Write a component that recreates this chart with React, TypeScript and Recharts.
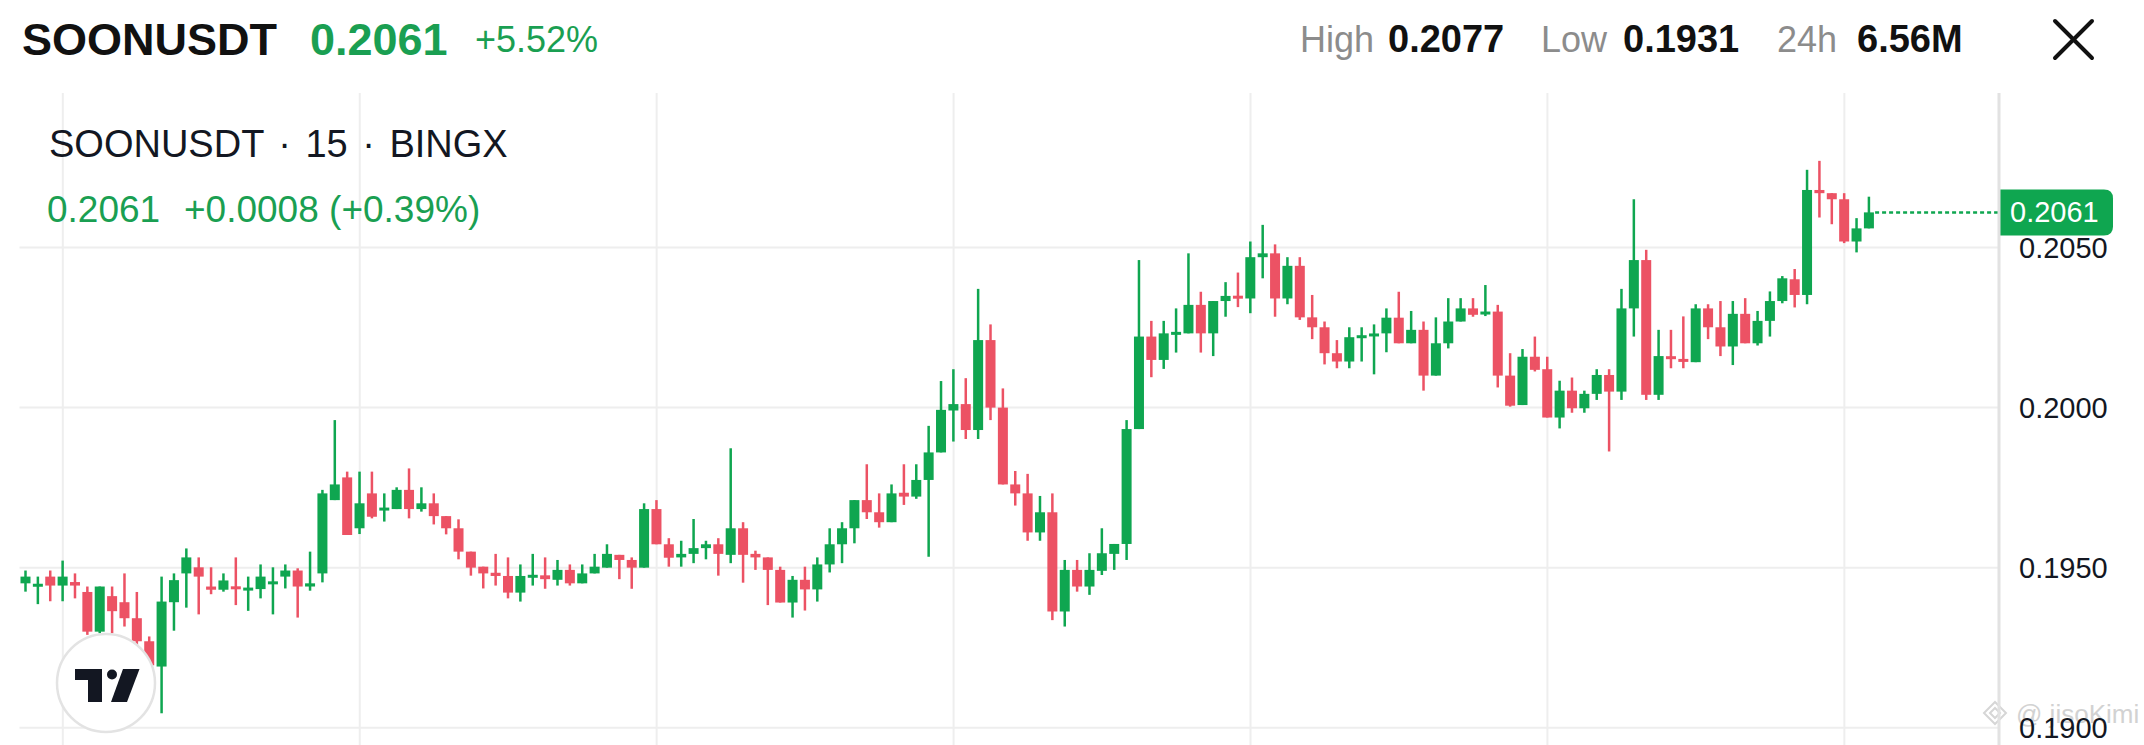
import { Bar, CartesianGrid, ComposedChart, ReferenceLine, XAxis, YAxis } from "recharts";

// 15-minute candles (oldest first)
const OPEN = [
  0.19451, 0.19442, 0.19472, 0.19444, 0.19455, 0.19424, 0.193, 0.19411, 0.19392, 0.19342,
  0.1927, 0.19191, 0.19392, 0.19482, 0.19501, 0.19441, 0.19431, 0.19441, 0.1943, 0.19433,
  0.1945, 0.19472, 0.19491, 0.19441, 0.19482, 0.19711, 0.19782, 0.19623, 0.19732, 0.1968,
  0.19683, 0.19743, 0.19683, 0.19701, 0.19661, 0.19623, 0.1955, 0.19503, 0.19484, 0.19474,
  0.19422, 0.1947, 0.19476, 0.19462, 0.19493, 0.19451, 0.19482, 0.195, 0.1954, 0.19524,
  0.195, 0.19683, 0.19573, 0.19532, 0.19543, 0.19561, 0.19573, 0.1954, 0.19623, 0.19543,
  0.19532, 0.19493, 0.19391, 0.19462, 0.19432, 0.1951, 0.19573, 0.19623, 0.19711, 0.19673,
  0.19642, 0.19734, 0.19722, 0.19774, 0.1986, 0.19991, 0.20011, 0.1993, 0.20211, 0.2,
  0.1976, 0.19732, 0.1961, 0.19673, 0.19363, 0.19493, 0.19441, 0.1949, 0.19543, 0.19574,
  0.19933, 0.20222, 0.20149, 0.20229, 0.20232, 0.20321, 0.20232, 0.20333, 0.20349, 0.20341,
  0.2047, 0.20482, 0.20341, 0.20443, 0.20282, 0.20251, 0.2017, 0.20144, 0.20219, 0.20224,
  0.20232, 0.20281, 0.20201, 0.20243, 0.201, 0.20201, 0.20269, 0.2031, 0.20294, 0.203,
  0.201, 0.20008, 0.20159, 0.2012, 0.19969, 0.20053, 0.19998, 0.20043, 0.20102, 0.2005,
  0.2031, 0.20461, 0.2004, 0.2016, 0.20151, 0.20142, 0.2031, 0.20251, 0.20191, 0.20293,
  0.20201, 0.20271, 0.20333, 0.20401, 0.20352, 0.2068, 0.2067, 0.20651, 0.20519, 0.2056,
];
const HIGH = [
  0.19491, 0.19472, 0.19491, 0.19522, 0.19482, 0.19441, 0.19441, 0.19441, 0.19482, 0.19424,
  0.19285, 0.19472, 0.19482, 0.1956, 0.19532, 0.19501, 0.19482, 0.19532, 0.19472, 0.1951,
  0.19501, 0.1951, 0.19498, 0.1955, 0.19743, 0.19961, 0.198, 0.198, 0.198, 0.19732,
  0.19751, 0.1981, 0.19751, 0.19732, 0.19661, 0.19651, 0.1955, 0.19503, 0.19543, 0.19532,
  0.1951, 0.19543, 0.19532, 0.19524, 0.1951, 0.1951, 0.19543, 0.19573, 0.1954, 0.19532,
  0.19701, 0.19711, 0.19592, 0.19584, 0.19652, 0.19584, 0.19592, 0.19873, 0.19642, 0.19553,
  0.19532, 0.19503, 0.19474, 0.19503, 0.19532, 0.19623, 0.19642, 0.19711, 0.19823, 0.19732,
  0.1976, 0.19823, 0.19823, 0.19943, 0.20083, 0.2012, 0.20092, 0.20371, 0.2026, 0.2006,
  0.19802, 0.19793, 0.19724, 0.19732, 0.19524, 0.19524, 0.19545, 0.19623, 0.19574, 0.19961,
  0.20461, 0.20271, 0.20271, 0.2031, 0.20482, 0.20362, 0.20333, 0.20392, 0.20422, 0.20519,
  0.20571, 0.2051, 0.2047, 0.2047, 0.20352, 0.20269, 0.20211, 0.20251, 0.20251, 0.2026,
  0.2031, 0.20362, 0.20302, 0.20269, 0.20282, 0.20342, 0.20342, 0.20342, 0.20383, 0.20321,
  0.2017, 0.20183, 0.20222, 0.20159, 0.20084, 0.20094, 0.20053, 0.2012, 0.2012, 0.20371,
  0.20651, 0.20493, 0.20243, 0.20243, 0.20285, 0.20323, 0.20323, 0.20333, 0.20333, 0.20342,
  0.20302, 0.20363, 0.20411, 0.20433, 0.20743, 0.20771, 0.2067, 0.2067, 0.20592, 0.20659,
];
const LOW = [
  0.19425, 0.19386, 0.19395, 0.19395, 0.19404, 0.1929, 0.19295, 0.19295, 0.19316, 0.1925,
  0.1917, 0.19045, 0.19303, 0.19375, 0.19354, 0.19417, 0.19425, 0.19383, 0.19365, 0.19404,
  0.19354, 0.19435, 0.19344, 0.19428, 0.19454, 0.19711, 0.19602, 0.19605, 0.19654, 0.19644,
  0.19683, 0.19654, 0.19675, 0.19635, 0.19604, 0.19526, 0.19475, 0.19435, 0.19444, 0.19404,
  0.19394, 0.19444, 0.19434, 0.19444, 0.19444, 0.19451, 0.19482, 0.195, 0.19464, 0.19434,
  0.195, 0.19573, 0.19503, 0.19503, 0.19514, 0.19526, 0.19475, 0.19514, 0.19453, 0.19493,
  0.19383, 0.19391, 0.19344, 0.19366, 0.19394, 0.19485, 0.19514, 0.19576, 0.19652, 0.19625,
  0.19642, 0.19696, 0.19715, 0.19534, 0.1986, 0.19894, 0.19902, 0.19902, 0.19961, 0.1976,
  0.19694, 0.19584, 0.19584, 0.19336, 0.19316, 0.19425, 0.19415, 0.19477, 0.19493, 0.19524,
  0.19933, 0.20095, 0.20121, 0.20172, 0.20232, 0.20172, 0.20161, 0.20284, 0.20314, 0.20295,
  0.20404, 0.20284, 0.20323, 0.20274, 0.20214, 0.20135, 0.20123, 0.20123, 0.20144, 0.20104,
  0.20173, 0.20201, 0.20201, 0.20053, 0.201, 0.20185, 0.20269, 0.20284, 0.20286, 0.20063,
  0.20003, 0.20008, 0.20113, 0.19969, 0.19935, 0.19984, 0.19984, 0.20024, 0.19863, 0.20024,
  0.20222, 0.20024, 0.20024, 0.20123, 0.20123, 0.20142, 0.20214, 0.20161, 0.20133, 0.20201,
  0.20194, 0.20222, 0.20326, 0.20313, 0.20323, 0.20594, 0.20573, 0.20514, 0.20485, 0.2056,
];
const CLOSE = [
  0.19472, 0.19448, 0.19444, 0.19472, 0.19444, 0.193, 0.19441, 0.19364, 0.19342, 0.1927,
  0.19195, 0.19394, 0.19461, 0.19532, 0.19472, 0.19431, 0.1946, 0.19433, 0.19436, 0.19472,
  0.19455, 0.19491, 0.19441, 0.19451, 0.19732, 0.1976, 0.19602, 0.19701, 0.19659, 0.19686,
  0.19743, 0.19683, 0.19701, 0.19661, 0.19623, 0.1955, 0.195, 0.19482, 0.19474, 0.19422,
  0.19474, 0.19476, 0.19464, 0.19493, 0.19451, 0.19482, 0.19503, 0.19543, 0.19524, 0.195,
  0.19683, 0.19573, 0.19531, 0.19543, 0.19561, 0.19573, 0.19543, 0.19623, 0.1954, 0.19532,
  0.19493, 0.19391, 0.19462, 0.19432, 0.1951, 0.19573, 0.19623, 0.19711, 0.19673, 0.19642,
  0.19732, 0.19722, 0.19774, 0.1986, 0.19993, 0.20011, 0.1993, 0.20211, 0.2, 0.1976,
  0.19732, 0.1961, 0.19673, 0.19363, 0.19493, 0.19441, 0.19493, 0.19545, 0.19574, 0.19933,
  0.20222, 0.20149, 0.20232, 0.20235, 0.20321, 0.20232, 0.20333, 0.20349, 0.20341, 0.2047,
  0.20482, 0.20341, 0.20443, 0.20282, 0.20251, 0.2017, 0.20144, 0.2022, 0.20224, 0.2023,
  0.20281, 0.20201, 0.20243, 0.201, 0.20201, 0.20269, 0.2031, 0.2029, 0.20297, 0.201,
  0.20006, 0.20159, 0.20118, 0.19969, 0.20053, 0.19998, 0.20043, 0.20102, 0.2005, 0.2031,
  0.20461, 0.2004, 0.20161, 0.20152, 0.20144, 0.2031, 0.20251, 0.20191, 0.20293, 0.20201,
  0.20271, 0.20333, 0.20404, 0.20352, 0.2068, 0.2067, 0.20651, 0.20519, 0.2056, 0.2061,
];

// 150 candles plus 10 empty slots of right-hand margin
const SLOTS = Array.from({ length: 160 }, (_, i) => i);
const GRID_SLOTS = [3, 27, 51, 75, 99, 123, 147];
const PRICE_TICKS = [0.19, 0.195, 0.2, 0.205];
const LAST_PRICE = 0.2061;

const UP = "#0fa650";
const DOWN = "#ec5264";
const TEXT_GREEN = "#1a9f52";
const FONT = '"Liberation Sans", Arial, sans-serif';

const rows = SLOTS.map((i) =>
  i < OPEN.length
    ? { slot: i, open: OPEN[i], high: HIGH[i], low: LOW[i], close: CLOSE[i], range: [LOW[i], HIGH[i]] }
    : { slot: i }
);

const Candle = (props: any) => {
  const { x, y, width, height, payload } = props;
  if (payload?.open == null || !(height > 0)) return <g />;
  const { open, close, high, low } = payload;
  const color = close >= open ? UP : DOWN;
  const k = height / (high - low);
  const top = y + (high - Math.max(open, close)) * k;
  const bottom = y + (high - Math.min(open, close)) * k;
  const bodyH = Math.max(bottom - top, 3);
  const bodyY = bottom - top < 3 ? (top + bottom) / 2 - 1.5 : top;
  const cx = x + width / 2;
  return (
    <g>
      <rect x={cx - 1.25} y={y} width={2.5} height={height} fill={color} />
      <rect x={x} y={bodyY} width={width} height={bodyH} fill={color} />
    </g>
  );
};

const LastPriceLine = (props: any) => {
  const { x1, x2, y1 } = props;
  const halfBand = (x2 - x1) / 20;
  return (
    <line x1={x1 + 6} x2={x2 + halfBand} y1={y1} y2={y1} stroke={UP} strokeWidth={2.5} strokeDasharray="4 3" />
  );
};

const PriceTag = (props: any) => {
  const { viewBox } = props;
  if (!viewBox) return null;
  const left = viewBox.x + viewBox.width - 1;
  const right = left + 115;
  const top = viewBox.y - 23;
  const bottom = viewBox.y + 23;
  const r = 9;
  const d = `M${left},${top} H${right - r} Q${right},${top} ${right},${top + r} V${bottom - r} Q${right},${bottom} ${right - r},${bottom} H${left} Z`;
  return (
    <g>
      <path d={d} fill={UP} />
      <text x={left + 12} y={viewBox.y + 10} fontSize={29} fontFamily={FONT} fill="#ffffff">
        {LAST_PRICE.toFixed(4)}
      </text>
    </g>
  );
};

const Header = () => (
  <svg width={2144} height={745} style={{ position: "absolute", left: 0, top: 0, pointerEvents: "none" }}>
    <g fontFamily={FONT}>
      <text x={22} y={55} fontSize={45} fontWeight={700} fill="#111111">SOONUSDT</text>
      <text x={310} y={55} fontSize={45} fontWeight={700} fill={TEXT_GREEN}>0.2061</text>
      <text x={475} y={52} fontSize={36} fill={TEXT_GREEN}>+5.52%</text>

      <text x={1300} y={52} fontSize={36} fill="#8c8c8c">High</text>
      <text x={1388} y={52} fontSize={38} fontWeight={700} fill="#111111">0.2077</text>
      <text x={1541} y={52} fontSize={36} fill="#8c8c8c">Low</text>
      <text x={1623} y={52} fontSize={38} fontWeight={700} fill="#111111">0.1931</text>
      <text x={1777} y={52} fontSize={36} fill="#8c8c8c">24h</text>
      <text x={1857} y={52} fontSize={38} fontWeight={700} fill="#111111">6.56M</text>

      <text x={49} y={157} fontSize={38} fill="#131722" wordSpacing={4} style={{ whiteSpace: "pre" }}>
        SOONUSDT · 15 · BINGX
      </text>
      <text x={47} y={222} fontSize={37} fill={TEXT_GREEN}>0.2061</text>
      <text x={184} y={222} fontSize={37} fill={TEXT_GREEN}>+0.0008 (+0.39%)</text>
    </g>
    <g stroke="#111111" strokeWidth={4} strokeLinecap="round">
      <line x1={2055} y1={21} x2={2092} y2={58} />
      <line x1={2092} y1={21} x2={2055} y2={58} />
    </g>
    {/* TradingView badge */}
    <circle cx={106} cy={683} r={49} fill="#ffffff" stroke="#e3e3e3" strokeWidth={2.5} />
    <g fill="#131722">
      <rect x={75} y={669} width={27} height={11} />
      <rect x={88} y={669} width={14} height={33} />
      <circle cx={112} cy={674.5} r={5} />
      <path d="M123,669 H139.5 L127,702 H111 Z" />
    </g>
  </svg>
);

const Watermark = () => (
  <svg width={2144} height={745} style={{ position: "absolute", left: 0, top: 0 }}>
    <g fill="none" stroke="#d6d6d6" strokeWidth={2}>
      <path d="M1995,702 L2006,713 L1995,724 L1984,713 Z" />
      <path d="M1995,708 L2000,713 L1995,718 L1990,713 Z" />
    </g>
    <text x={2016} y={723} fontSize={26} fontFamily={FONT} fill="#d2d2d2">@ jisoKimi</text>
  </svg>
);

export default function App() {
  return (
    <div
      style={{
        position: "absolute",
        left: 0,
        top: 0,
        width: 2144,
        height: 745,
        overflow: "hidden",
        background: "#ffffff",
      }}
    >
      <Watermark />
      <div style={{ position: "absolute", left: 0, top: 0 }}>
        <ComposedChart width={2144} height={790} data={rows} margin={{ top: 93, right: 0, bottom: 0, left: 19.5 }}>
          <CartesianGrid
            stroke="#eeeeee"
            strokeWidth={2}
            horizontalValues={PRICE_TICKS}
            verticalValues={GRID_SLOTS}
            syncWithTicks
          />
          <XAxis
            dataKey="slot"
            ticks={GRID_SLOTS}
            interval={0}
            axisLine={false}
            tickLine={false}
            tick={{ fill: "transparent" }}
            height={30}
          />
          <YAxis
            orientation="right"
            width={145}
            domain={[0.18899, 0.20983]}
            allowDataOverflow
            ticks={PRICE_TICKS}
            interval={0}
            tickFormatter={(v: number) => v.toFixed(4)}
            axisLine={{ stroke: "#e2e2e2", strokeWidth: 3 }}
            tickLine={false}
            tickMargin={14}
            tick={{ fill: "#131722", fontSize: 29, fontFamily: FONT }}
          />
          <Bar dataKey="range" barSize={10} shape={(p: any) => <Candle {...p} />} isAnimationActive={false} />
          <ReferenceLine
            segment={[
              { x: 149, y: LAST_PRICE },
              { x: 159, y: LAST_PRICE },
            ]}
            shape={(p: any) => <LastPriceLine {...p} />}
          />
          <ReferenceLine y={LAST_PRICE} stroke="none" label={(p: any) => <PriceTag {...p} />} />
        </ComposedChart>
      </div>
      <Header />
    </div>
  );
}
